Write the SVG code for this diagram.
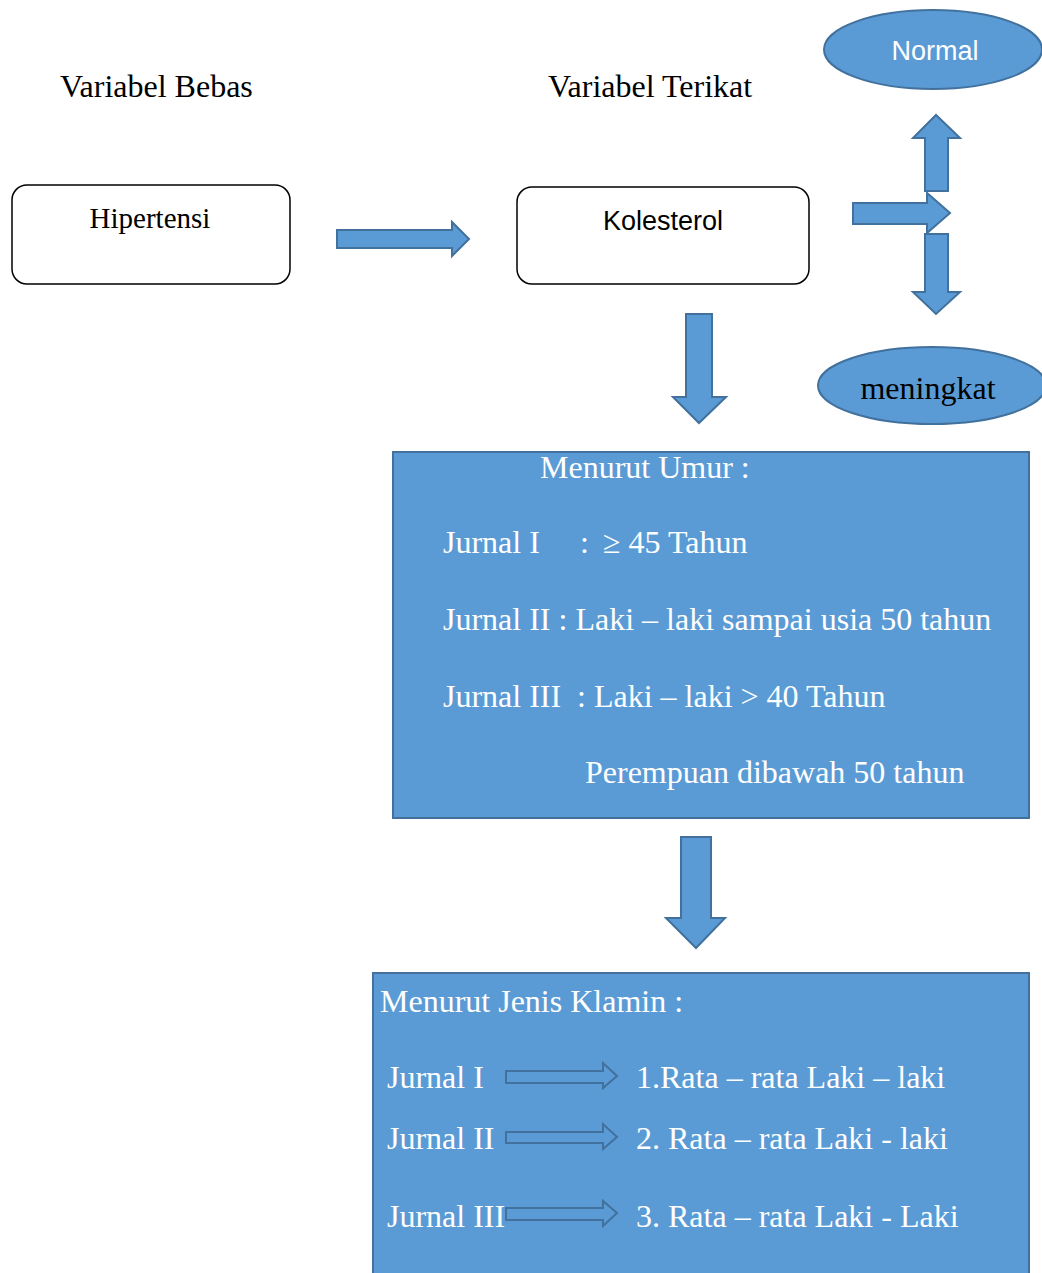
<svg xmlns="http://www.w3.org/2000/svg" width="1042" height="1273" viewBox="0 0 1042 1273">
<style>
.serif{font-family:"Liberation Serif","Times New Roman",serif;}
.sans{font-family:"Liberation Sans",Arial,sans-serif;}
.blk{fill:#000;}
.wht{fill:#fff;}
.box{fill:#fff;stroke:#000;stroke-width:1.5;}
.blue{fill:#5B9BD5;stroke:#41719C;stroke-width:2;}
.arr{fill:#5B9BD5;stroke:#41719C;stroke-width:2;stroke-linejoin:miter;}
</style>
<rect width="1042" height="1273" fill="#fff"/>
<g id="labels">
<text class="serif blk" x="60" y="97" font-size="32">Variabel Bebas</text>
<text class="serif blk" x="548" y="97" font-size="32">Variabel Terikat</text>
</g>
<g id="hipertensi">
<rect class="box" x="12" y="185" width="278" height="99" rx="15"/>
<text class="serif blk" x="150" y="228" font-size="29" text-anchor="middle">Hipertensi</text>
</g>
<g id="kolesterol">
<rect class="box" x="517" y="187" width="292" height="97" rx="15"/>
<text class="sans blk" x="663" y="230" font-size="27" text-anchor="middle">Kolesterol</text>
</g>
<g id="normal">
<ellipse class="blue" cx="933" cy="49.5" rx="109" ry="39.5"/>
<text class="sans wht" x="935" y="60" font-size="27" text-anchor="middle">Normal</text>
</g>
<g id="meningkat">
<ellipse class="blue" cx="932" cy="385.5" rx="114" ry="38.5"/>
<text class="serif blk" x="928" y="399" font-size="32" text-anchor="middle">meningkat</text>
</g>
<g id="umur">
<rect class="blue" x="393" y="452" width="636" height="366"/>
<g class="serif wht" font-size="32">
<text x="540" y="478">Menurut Umur :</text>
<text x="443" y="553">Jurnal I</text>
<text x="580" y="553">:</text>
<text x="603" y="553">≥ 45 Tahun</text>
<text x="443" y="630">Jurnal II : Laki – laki sampai usia 50 tahun</text>
<text x="443" y="707">Jurnal III</text>
<text x="577" y="707">: Laki – laki &gt; 40 Tahun</text>
<text x="585" y="783">Perempuan dibawah 50 tahun</text>
</g>
</g>
<g id="klamin">
<rect class="blue" x="373" y="973" width="656" height="310"/>
<g class="serif wht" font-size="32">
<text x="380" y="1012">Menurut Jenis Klamin :</text>
<text x="387" y="1088">Jurnal I</text>
<text x="636" y="1088">1.Rata – rata Laki – laki</text>
<text x="387" y="1149">Jurnal II</text>
<text x="636" y="1149">2. Rata – rata Laki - laki</text>
<text x="387" y="1227">Jurnal III</text>
<text x="636" y="1227">3. Rata – rata Laki - Laki</text>
</g>
</g>
<g id="connectors">
<polygon class="arr" points="337,230 452,230 452,222 469,239 452,256 452,248 337,248"/>
<polygon class="arr" points="686,314 712,314 712,397 726,397 699,423 673,397 686,397"/>
<polygon class="arr" points="925,191 925,138 913,138 936,115 960,138 948,138 948,191"/>
<polygon class="arr" points="853,203 927,203 927,193 950,213 927,233 927,224 853,224"/>
<polygon class="arr" points="925,234 948,234 948,292 960,292 936,314 913,292 925,292"/>
<polygon class="arr" points="681,837 711,837 711,918 725,918 696,948 666,918 681,918"/>
<polygon class="arr" points="506,1071 603,1071 603,1063 617,1076 603,1088 603,1083 506,1083"/>
<polygon class="arr" points="506,1132 603,1132 603,1124 617,1137 603,1149 603,1143 506,1143"/>
<polygon class="arr" points="506,1208 603,1208 603,1201 617,1213 603,1226 603,1220 506,1220"/>
</g>
</svg>
